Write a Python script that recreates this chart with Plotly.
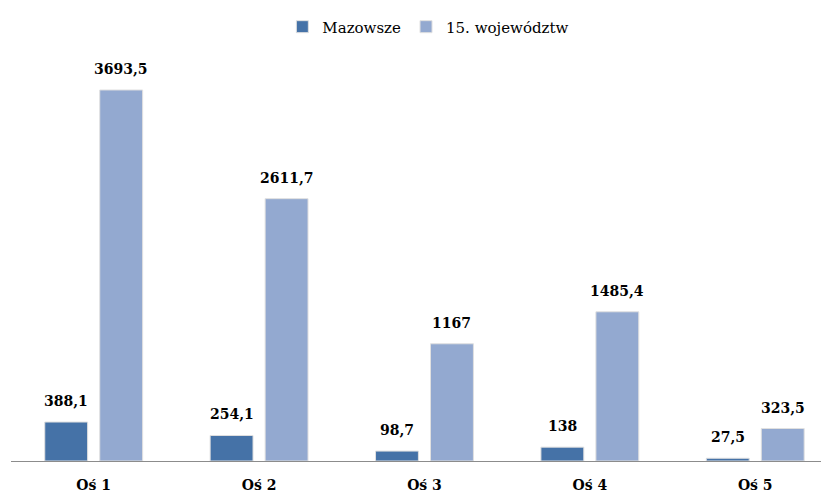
import plotly.graph_objects as go

categories = ["Oś 1", "Oś 2", "Oś 3", "Oś 4", "Oś 5"]
mazowsze = [388.1, 254.1, 98.7, 138, 27.5]
wojewodztw = [3693.5, 2611.7, 1167, 1485.4, 323.5]
series_names = ["Mazowsze", "15. województw"]
colors = ["#4572a7", "#93a9d0"]


def fmt(v):
    return ("%g" % v).replace(".", ",")


font_family = "DejaVu Serif, Liberation Serif, serif"

fig = go.Figure()
for name, vals, col in zip(series_names, [mazowsze, wojewodztw], colors):
    fig.add_trace(go.Bar(
        x=categories, y=vals, name=name,
        marker=dict(color=col, line=dict(color="#e0e0e0", width=1)),
        cliponaxis=False,
    ))

# data labels placed above each bar of the group
slot_px = 27.5
for vals, xs in ((mazowsze, -slot_px), (wojewodztw, slot_px)):
    for c, v in zip(categories, vals):
        fig.add_annotation(
            x=c, y=v, xref="x", yref="y", text="<b>" + fmt(v) + "</b>",
            showarrow=False, xanchor="center", yanchor="bottom",
            xshift=xs, yshift=11,
            font=dict(family=font_family, size=14, color="#000000"),
        )

# the page body adds an 8px offset, so the figure is sized to the visible area
fig.update_layout(
    width=821, height=484,
    margin=dict(l=3, r=0, t=52, b=31, autoexpand=False),
    paper_bgcolor="white", plot_bgcolor="white",
    barmode="group", bargap=0.335, bargroupgap=0.22,
    font=dict(family=font_family, size=15, color="#000000"),
    legend=dict(orientation="h", xref="container", yref="container",
                x=0.512, xanchor="center", y=0.995, yanchor="top",
                font=dict(family=font_family, size=15, color="#000000"),
                itemwidth=30, traceorder="normal"),
    showlegend=True,
)
fig.update_xaxes(
    range=[-0.5, 4.446], showline=True, linecolor="#8c8c8c", linewidth=1,
    ticks="", showgrid=False, automargin=False, ticklabelstandoff=11,
    tickfont=dict(family=font_family, size=14, color="#000000", weight="bold"),
)
fig.update_yaxes(range=[0, 3992], visible=False, showgrid=False, automargin=False)

fig.write_html("out.html")
